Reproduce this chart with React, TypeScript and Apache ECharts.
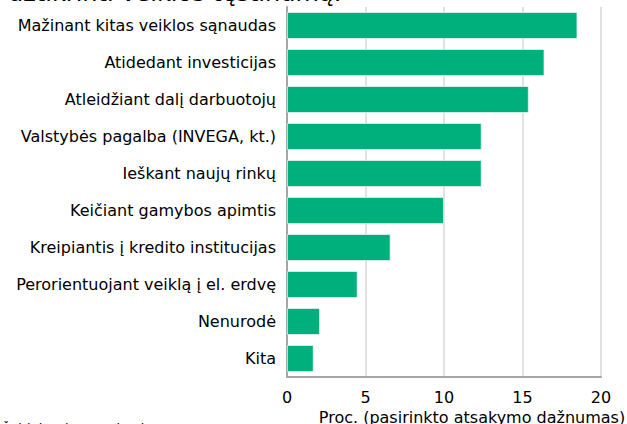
import React, { useEffect, useRef } from "react";
import * as echarts from "echarts";

const categories = [
  "Mažinant kitas veiklos sąnaudas",
  "Atidedant investicijas",
  "Atleidžiant dalį darbuotojų",
  "Valstybės pagalba (INVEGA, kt.)",
  "Ieškant naujų rinkų",
  "Keičiant gamybos apimtis",
  "Kreipiantis į kredito institucijas",
  "Perorientuojant veiklą į el. erdvę",
  "Nenurodė",
  "Kita",
];
const values = [18.5, 16.4, 15.4, 12.4, 12.4, 10.0, 6.6, 4.5, 2.1, 1.7];
const titleText = "užtikrinti veiklos tęstinumą:";
const axisName = "Proc. (pasirinkto atsakymo dažnumas)";
const sourceText = "Šaltinis: Lietuvos bankas";

const FONT = "DejaVu Sans, Verdana, sans-serif";

export default function App() {
  const ref = useRef<HTMLDivElement>(null);
  useEffect(() => {
    if (!ref.current) return;
    const chart = echarts.init(ref.current, undefined, { renderer: "svg" });
    chart.setOption({
      animation: false,
      backgroundColor: "#ffffff",
      textStyle: { fontFamily: FONT },
      graphic: [
        {
          type: "text",
          left: 8,
          top: -19,
          style: { text: titleText, fontSize: 24, fill: "#000", fontFamily: FONT },
        },
        {
          type: "text",
          left: 2,
          top: 422,
          style: { text: sourceText, fontSize: 13, fill: "#000", fontFamily: FONT },
        },
      ],
      grid: {
        left: 287,
        right: 26,
        top: 7,
        bottom: 47,
        containLabel: false,
        outerBoundsMode: "none",
      },
      xAxis: {
        type: "value",
        min: 0,
        max: 20,
        interval: 5,
        axisLine: { show: true, lineStyle: { color: "#a6a6a6", width: 2 } },
        axisTick: { show: false },
        splitLine: { show: true, lineStyle: { color: "#d9d9d9", width: 1.5 } },
        axisLabel: { fontSize: 16, color: "#000", margin: 12, fontFamily: FONT },
        name: axisName,
        nameLocation: "middle",
        nameGap: 28,
        nameTextStyle: {
          fontSize: 16,
          color: "#000",
          fontFamily: FONT,
          padding: [0, 0, 0, 56],
        },
      },
      yAxis: {
        type: "category",
        data: categories,
        inverse: true,
        axisLine: { show: true, lineStyle: { color: "#a6a6a6", width: 2 } },
        axisTick: { show: false },
        axisLabel: { fontSize: 16, color: "#000", margin: 11, fontFamily: FONT },
      },
      series: [
        {
          type: "bar",
          data: values,
          barCategoryGap: "27%",
          itemStyle: { color: "#00b07c", borderColor: "rgba(255,255,255,0.6)", borderWidth: 1 },
        },
      ],
    });
    return () => chart.dispose();
  }, []);
  return (
    <div
      ref={ref}
      style={{ position: "fixed", left: 0, top: 0, width: 627, height: 424 }}
    />
  );
}
